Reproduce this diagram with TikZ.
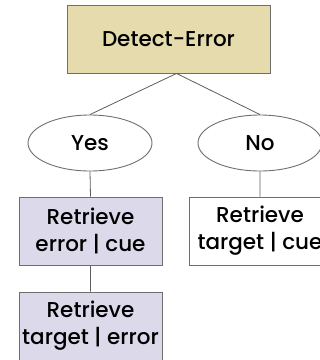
\documentclass[tikz,border=0pt]{standalone}
\usepackage{fontspec}
\setmainfont{Poppins Medium}
\usetikzlibrary{shapes.geometric}
\definecolor{tanfill}{RGB}{229,219,172}
\definecolor{lavfill}{RGB}{220,218,234}
\definecolor{edgegray}{RGB}{110,110,110}
\begin{document}
\begin{tikzpicture}[x=1pt,y=-1pt,
	stepbox/.style={rectangle,draw=edgegray,line width=0.9pt,minimum width=143pt,minimum height=68pt,align=center,inner sep=0pt,font=\fontsize{21.5}{27}\selectfont},
	choice/.style={ellipse,draw=edgegray,line width=0.9pt,minimum width=124pt,minimum height=56pt,inner sep=0pt,font=\fontsize{21.5}{27}\selectfont},
	link/.style={draw=edgegray!85!black,line width=0.8pt}]
	\useasboundingbox (0,0) rectangle (320,360);
	\node [stepbox,fill=tanfill,minimum width=203pt] (detect) at (168.5,39) {Detect-Error};
	\node [choice] (yes) at (90,143) {Yes};
	\node [choice] (no) at (260,143) {No};
	\node [stepbox,fill=lavfill] (errcue) at (90.5,231) {Retrieve\\error | cue};
	\node [stepbox,fill=white,minimum width=142pt] (tarcue) at (260,231) {Retrieve\\target | cue};
	\node [stepbox,fill=lavfill] (tarerr) at (90.5,326) {Retrieve\\target | error};
	
	\draw [link] ([xshift=8pt]detect.south) -- (yes.north) ([xshift=8pt]detect.south) -- (no.north);
	\draw [link] (yes.south) -- (errcue.north) (no.south) -- (tarcue.north) (errcue.south) -- (tarerr.north);
\end{tikzpicture}
\end{document}
